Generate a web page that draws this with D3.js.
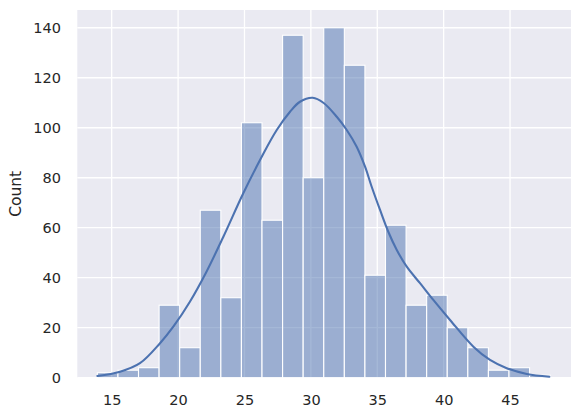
<!DOCTYPE html>
<html>
<head>
<meta charset="utf-8">
<script src="https://cdn.jsdelivr.net/npm/d3@7"></script>
<style>
  html, body { margin: 0; padding: 0; background: #ffffff; }
  svg { display: block; }
</style>
</head>
<body>
<svg id="chart" width="581" height="417"></svg>
<script>
// ---- data ----
const binStart = 13.92;
const binWidth = 1.55;
const counts = [2, 3, 4, 29, 12, 67, 32, 102, 63, 137, 80, 140, 125, 41, 61, 29, 33, 20, 12, 3, 4, 1];
const kdeX = [13.92, 15.63, 17.13, 18.64, 19.64, 20.9, 22.1, 23.41, 24.91, 26.30, 27.43, 28.43, 29.18, 30.14, 30.94, 31.95, 32.70, 33.45, 34.08, 34.58, 35.21, 35.83, 36.47, 37.22, 38.22, 39.22, 40.48, 42.24, 43.49, 44.75, 46.26, 47.96];
const kdeY = [0.7, 2.4, 5.8, 13.8, 20.4, 30.5, 42.0, 56.4, 73.8, 88.4, 99.1, 106.4, 110.4, 112.0, 110.0, 104.4, 99.1, 92.4, 84.4, 76.4, 67.1, 58.4, 51.1, 44.4, 37.8, 31.1, 23.1, 12.4, 7.1, 3.8, 1.5, 0.4];
const xTicks = [15, 20, 25, 30, 35, 40, 45];
const yTicks = [0, 20, 40, 60, 80, 100, 120, 140];
const yLabel = "Count";

// ---- layout ----
const pL = 77.3, pR = 571, pT = 10, pB = 377.7;
const svg = d3.select("#chart");
const x = d3.scaleLinear().domain([12.41, 49.59]).range([pL, pR]);
const y = d3.scaleLinear().domain([0, 147.1]).range([pB, pT]);

const font = "'DejaVu Sans', sans-serif";
const textColor = "#262626";

svg.append("rect").attr("x", pL).attr("y", pT)
  .attr("width", pR - pL).attr("height", pB - pT)
  .attr("fill", "#EAEAF2");

// grid
const g = svg.append("g");
g.selectAll("line.gx").data(xTicks).join("line")
  .attr("class", "gx")
  .attr("x1", d => x(d)).attr("x2", d => x(d))
  .attr("y1", pT).attr("y2", pB)
  .attr("stroke", "#ffffff").attr("stroke-width", 1.3);
g.selectAll("line.gy").data(yTicks).join("line")
  .attr("class", "gy")
  .attr("y1", d => y(d)).attr("y2", d => y(d))
  .attr("x1", pL).attr("x2", pR)
  .attr("stroke", "#ffffff").attr("stroke-width", 1.3);

// bars
const bins = counts.map((c, i) => ({x0: binStart + i * binWidth, x1: binStart + (i + 1) * binWidth, c}));
svg.append("g").selectAll("rect").data(bins).join("rect")
  .attr("x", d => x(d.x0)).attr("width", d => x(d.x1) - x(d.x0))
  .attr("y", d => y(d.c)).attr("height", d => y(0) - y(d.c))
  .attr("fill", "#4C72B0").attr("fill-opacity", 0.5)
  .attr("stroke", "#ffffff").attr("stroke-width", 1.1);

// kde
const pts = kdeX.map((v, i) => [v, kdeY[i]]);
svg.append("path").datum(pts)
  .attr("d", d3.line().x(d => x(d[0])).y(d => y(d[1])).curve(d3.curveCatmullRom.alpha(0.5)))
  .attr("fill", "none").attr("stroke", "#4C72B0").attr("stroke-width", 2.1)
  .attr("stroke-linecap", "round");

// axes (no lines, only labels)
const xAxis = d3.axisBottom(x).tickValues(xTicks).tickSize(0).tickPadding(0).tickFormat(d3.format("d"));
const xa = svg.append("g").attr("transform", `translate(0,${pB})`).call(xAxis);
xa.select(".domain").remove();
xa.selectAll("text").attr("font-family", font).attr("font-size", 14.5)
  .attr("fill", textColor).attr("dy", null).attr("y", 27.3);

const yAxis = d3.axisLeft(y).tickValues(yTicks).tickSize(0).tickPadding(0).tickFormat(d3.format("d"));
const ya = svg.append("g").attr("transform", `translate(61,0)`).call(yAxis);
ya.select(".domain").remove();
ya.selectAll("text").attr("font-family", font).attr("font-size", 14.5)
  .attr("fill", textColor).attr("x", 0).attr("dy", "0.36em");

svg.append("text")
  .attr("transform", `translate(20.7,${(pT + pB) / 2}) rotate(-90)`)
  .attr("text-anchor", "middle")
  .attr("font-family", font).attr("font-size", 15.5).attr("fill", textColor)
  .text(yLabel);
</script>
</body>
</html>
